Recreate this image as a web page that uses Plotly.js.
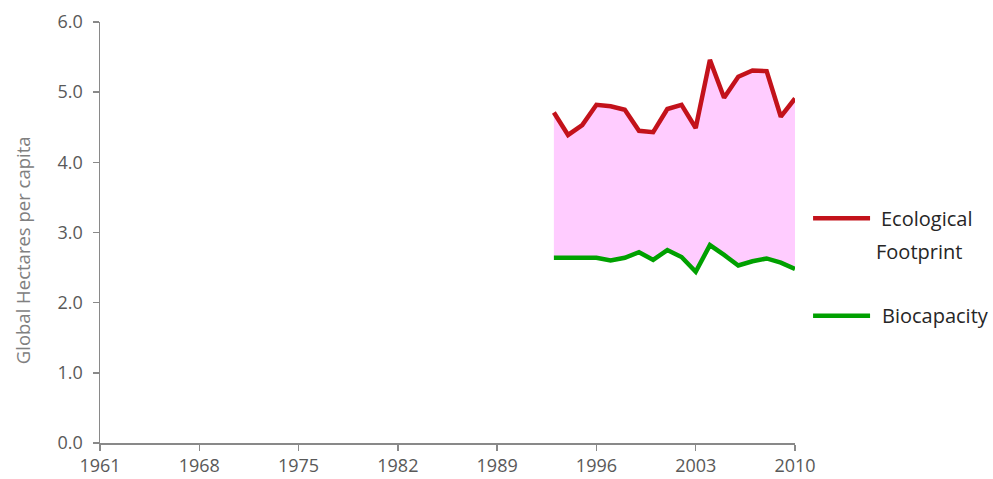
<!DOCTYPE html>
<html>
<head>
<meta charset="utf-8">
<script src="https://cdn.plot.ly/plotly-3.0.1.min.js"></script>
<style>html,body{margin:0;padding:0;background:#fff}#chart{width:993px;height:479px}</style>
</head>
<body>
<div id="chart"></div>
<script>
const years = [1993,1994,1995,1996,1997,1998,1999,2000,2001,2002,2003,2004,2005,2006,2007,2008,2009,2010];
const footprint = [4.71,4.39,4.53,4.82,4.80,4.75,4.45,4.43,4.76,4.82,4.49,5.46,4.92,5.22,5.31,5.30,4.65,4.91];
const biocapacity = [2.64,2.64,2.65,2.64,2.60,2.64,2.72,2.61,2.75,2.65,2.44,2.82,2.68,2.53,2.59,2.63,2.57,2.48];
const xTicks = [1961,1968,1975,1982,1989,1996,2003,2010];
const yTicks = [0,1,2,3,4,5,6];
const seriesNames = ['Ecological', 'Footprint', 'Biocapacity'];
const yTitle = 'Global Hectares per capita';

const red = '#c3121b';
const green = '#00a000';
const pink = '#ffccff';

const traces = [
  {x: years, y: biocapacity, mode: 'lines', line: {width: 0, color: pink}, showlegend: false, hoverinfo: 'skip'},
  {x: years, y: footprint, mode: 'lines', fill: 'tonexty', fillcolor: pink, line: {width: 0, color: pink}, showlegend: false, hoverinfo: 'skip'},
  {x: years, y: footprint, mode: 'lines', name: 'Ecological Footprint', line: {width: 4.5, color: red}, showlegend: false},
  {x: years, y: biocapacity, mode: 'lines', name: 'Biocapacity', line: {width: 4.5, color: green}, showlegend: false}
];

const axisColor = '#898989';
const legFont = {family: 'Open Sans, Liberation Sans, sans-serif', size: 20, color: '#262626'};
const layout = {
  width: 993, height: 479,
  margin: {l: 100, r: 198, t: 22, b: 36},
  paper_bgcolor: '#fff', plot_bgcolor: '#fff',
  font: {family: 'Open Sans, Liberation Sans, sans-serif', color: '#595959'},
  showlegend: false,
  xaxis: {
    range: [1961, 2010], tickvals: xTicks, ticktext: xTicks.map(String),
    showgrid: false, zeroline: false, showline: true, linecolor: axisColor, linewidth: 1.5,
    ticks: 'outside', ticklen: 6, tickcolor: axisColor, tickwidth: 1.5,
    tickfont: {size: 18, color: '#595959'}
  },
  yaxis: {
    range: [0, 6], tickvals: yTicks, ticktext: yTicks.map(v => v.toFixed(1)),
    showgrid: false, zeroline: false, showline: true, linecolor: axisColor, linewidth: 1.5,
    ticks: 'outside', ticklen: 6, tickcolor: axisColor, tickwidth: 1.5,
    ticklabelstandoff: 6,
    tickfont: {size: 18, color: '#595959'}
  },
  shapes: [
    {type: 'line', xref: 'paper', yref: 'paper', x0: 1.026, x1: 1.108, y0: 0.534, y1: 0.534, line: {color: red, width: 4.5}},
    {type: 'line', xref: 'paper', yref: 'paper', x0: 1.026, x1: 1.108, y0: 0.302, y1: 0.302, line: {color: green, width: 4.5}}
  ],
  annotations: [
    {xref: 'paper', yref: 'paper', x: -0.1122, y: 0.458, xanchor: 'center', yanchor: 'middle', textangle: -90, text: yTitle, showarrow: false, font: {size: 18.5, color: '#808080'}},
    {xref: 'paper', yref: 'paper', x: 1.121, y: 0.534, xanchor: 'left', yanchor: 'middle', text: seriesNames[0], showarrow: false, font: legFont},
    {xref: 'paper', yref: 'paper', x: 1.179, y: 0.454, xanchor: 'center', yanchor: 'middle', text: seriesNames[1], showarrow: false, font: legFont},
    {xref: 'paper', yref: 'paper', x: 1.122, y: 0.302, xanchor: 'left', yanchor: 'middle', text: seriesNames[2], showarrow: false, font: legFont}
  ]
};

Plotly.newPlot('chart', traces, layout, {displayModeBar: false, staticPlot: true});
</script>
</body>
</html>
